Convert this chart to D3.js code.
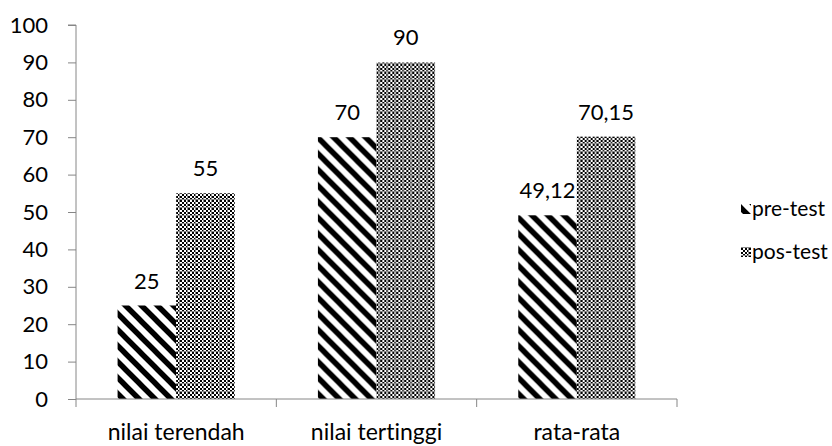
<!DOCTYPE html>
<html>
<head>
<meta charset="utf-8">
<script src="https://cdn.jsdelivr.net/npm/d3@7"></script>
<style>
  html, body { margin: 0; padding: 0; background: #fff; }
  svg { display: block; }
  text { font-family: Lato, "Open Sans", sans-serif; fill: #000; font-variant-ligatures: none; font-feature-settings: "liga" 0, "clig" 0; }
</style>
</head>
<body>
<svg id="chart" width="832" height="446"></svg>
<script>
// Test scores per category
const categories = ["nilai terendah", "nilai tertinggi", "rata-rata"];
const seriesNames = ["pre-test", "pos-test"];
const preTest = [25, 70, 49.12];
const posTest = [55, 90, 70.15];
const preLabels = ["25", "70", "49,12"];
const posLabels = ["55", "90", "70,15"];
const yTicks = [0, 10, 20, 30, 40, 50, 60, 70, 80, 90, 100];

const FS = 22;
const svg = d3.select("#chart");
const margin = { left: 76, right: 155, top: 25, bottom: 47 };
const W = 832, H = 446;

const x0 = d3.scaleBand().domain(categories)
  .range([margin.left, W - margin.right]).paddingInner(0).paddingOuter(0);
const x1 = d3.scaleBand().domain(seriesNames)
  .range([0, x0.bandwidth()]).paddingInner(0).paddingOuter(0.71);
const y = d3.scaleLinear().domain([0, 100]).range([H - margin.bottom, margin.top]);

// Fill patterns
const defs = svg.append("defs");
const stripe = defs.append("pattern").attr("id", "stripe")
  .attr("patternUnits", "userSpaceOnUse").attr("width", 16).attr("height", 16);
stripe.append("rect").attr("width", 16).attr("height", 16).attr("fill", "#fff");
stripe.append("path")
  .attr("d", "M-4,-4 L20,20 M-4,12 L4,20 M12,-4 L20,4")
  .attr("stroke", "#000").attr("stroke-width", 5.5);

const check = defs.append("pattern").attr("id", "check")
  .attr("patternUnits", "userSpaceOnUse").attr("width", 4).attr("height", 4);
check.append("rect").attr("width", 4).attr("height", 4).attr("fill", "#fff");
check.append("rect").attr("width", 2).attr("height", 2).attr("fill", "#000");
check.append("rect").attr("x", 2).attr("y", 2).attr("width", 2).attr("height", 2).attr("fill", "#000");

const grid = defs.append("pattern").attr("id", "grid")
  .attr("patternUnits", "userSpaceOnUse").attr("width", 8).attr("height", 8);
grid.append("rect").attr("width", 8).attr("height", 8).attr("fill", "url(#check)");
grid.append("rect").attr("x", 7).attr("width", 1).attr("height", 8).attr("fill", "#8a8a8a");
grid.append("rect").attr("y", 7).attr("width", 8).attr("height", 1).attr("fill", "#8a8a8a");

const fills = { "pre-test": "url(#stripe)", "pos-test": "url(#grid)" };

const rows = categories.map((c, i) => ({
  cat: c,
  vals: [
    { s: "pre-test", v: preTest[i], label: preLabels[i] },
    { s: "pos-test", v: posTest[i], label: posLabels[i] }
  ]
}));

// Bars
const groups = svg.append("g").selectAll("g").data(rows).join("g")
  .attr("transform", d => `translate(${x0(d.cat)},0)`);
groups.selectAll("rect").data(d => d.vals).join("rect")
  .attr("x", d => x1(d.s))
  .attr("y", d => y(d.v))
  .attr("width", x1.bandwidth())
  .attr("height", d => y(0) - y(d.v))
  .attr("fill", d => fills[d.s]);

// Value labels
groups.selectAll("text").data(d => d.vals).join("text")
  .attr("x", d => x1(d.s) + x1.bandwidth() / 2)
  .attr("y", d => y(d.v) - 17)
  .attr("text-anchor", "middle")
  .attr("font-size", FS)
  .text(d => d.label);

// Axes
const axisColor = "#868686";
const yAxis = svg.append("g").attr("transform", `translate(${margin.left},0)`)
  .call(d3.axisLeft(y).tickValues(yTicks).tickSize(8).tickPadding(20));
yAxis.selectAll("path, line").attr("stroke", axisColor);
yAxis.select(".domain").attr("d", `M-8,${y(100)}H0V${y(0)}`);
yAxis.selectAll("text").attr("font-size", FS).attr("font-family", "Lato, sans-serif").attr("fill", "#000");

const xAxis = svg.append("g").attr("transform", `translate(0,${y(0)})`)
  .call(d3.axisBottom(x0).tickSize(0).tickPadding(25));
xAxis.select(".domain").attr("stroke", axisColor)
  .attr("d", `M${margin.left},0H${W - margin.right}`);
xAxis.selectAll("text").attr("font-size", FS + 1).attr("font-family", "Lato, sans-serif").attr("fill", "#000");
// Category boundary ticks
const bounds = categories.map(c => x0(c)).concat([x0(categories[2]) + x0.bandwidth()]);
svg.append("g").selectAll("line").data(bounds).join("line")
  .attr("x1", d => d).attr("x2", d => d)
  .attr("y1", y(0)).attr("y2", y(0) + 8)
  .attr("stroke", axisColor);

// Legend
const legend = svg.append("g").attr("transform", "translate(741,0)");
const legY = [209, 252];
seriesNames.forEach((s, i) => {
  legend.append("rect").attr("x", 0).attr("y", legY[i] - 5)
    .attr("width", 10).attr("height", 10).attr("fill", fills[s]);
  legend.append("text").attr("x", 11).attr("y", legY[i] + 7)
    .attr("font-size", FS - 1).text(s);
});
</script>
</body>
</html>
